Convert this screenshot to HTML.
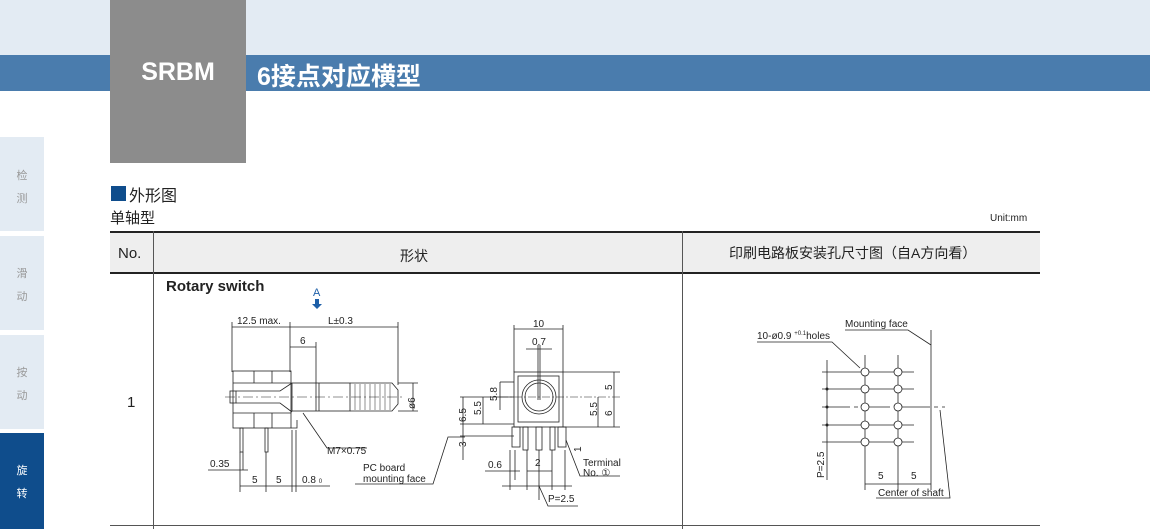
<!DOCTYPE html>
<html><head><meta charset="utf-8"><style>
*{margin:0;padding:0;box-sizing:border-box}
body{width:1150px;height:529px;position:relative;background:#fff;overflow:hidden;font-family:"Liberation Sans","Noto Sans CJK SC",sans-serif}
.a{position:absolute}
</style></head><body>
<div class="a" style="left:0;top:0;width:1150px;height:55px;background:#e3ebf3"></div>
<div class="a" style="left:0;top:55px;width:1150px;height:36px;background:#4a7cad"></div>
<div class="a" style="left:110px;top:0;width:136px;height:163px;background:#8c8c8c"></div>
<div class="a" style="left:110px;top:58px;width:136px;text-align:center;color:#fff;font-weight:bold;font-size:25px">SRBM</div>
<div class="a" style="left:257px;top:57px;color:#fff;font-weight:bold;font-size:25px;font-family:'Liberation Sans','Noto Sans CJK SC',sans-serif">6接点对应横型</div>

<div class="a" style="left:0;top:137px;width:44px;height:94px;background:#e3ebf3;color:#999;font-size:11px;text-align:center;padding-top:28px;line-height:23px">检<br>测</div>
<div class="a" style="left:0;top:236px;width:44px;height:94px;background:#e3ebf3;color:#999;font-size:11px;text-align:center;padding-top:27px;line-height:23px">滑<br>动</div>
<div class="a" style="left:0;top:335px;width:44px;height:94px;background:#e3ebf3;color:#999;font-size:11px;text-align:center;padding-top:27px;line-height:23px">按<br>动</div>
<div class="a" style="left:0;top:433px;width:44px;height:96px;background:#0f4d8c;color:#fff;font-size:11px;text-align:center;padding-top:27px;line-height:23px">旋<br>转</div>

<div class="a" style="left:111px;top:186px;width:15px;height:15px;background:#0f4d8c"></div>
<div class="a" style="left:129px;top:182px;font-size:16px;color:#222">外形图</div>
<div class="a" style="left:110px;top:207px;font-size:15px;color:#222">单轴型</div>
<div class="a" style="left:990px;top:213px;font-size:10px;color:#222">Unit:mm</div>

<div class="a" style="left:110px;top:231px;width:930px;height:43px;background:#eee;border-top:2px solid #222;border-bottom:2px solid #222"></div>
<div class="a" style="left:153px;top:231px;width:1px;height:298px;background:#555"></div>
<div class="a" style="left:682px;top:231px;width:1px;height:298px;background:#555"></div>
<div class="a" style="left:110px;top:525px;width:930px;height:1px;background:#555"></div>
<div class="a" style="left:118px;top:245px;font-size:15px;color:#222">No.</div>
<div class="a" style="left:400px;top:246px;font-size:14px;color:#222">形状</div>
<div class="a" style="left:729px;top:243px;font-size:14px;color:#222">印刷电路板安装孔尺寸图（自A方向看）</div>
<div class="a" style="left:127px;top:394px;font-size:15px;color:#222">1</div>
<div class="a" style="left:166px;top:278px;font-size:15px;font-weight:bold;color:#222">Rotary switch</div>

<svg class="a" style="left:0;top:0" width="1150" height="529" font-family="Liberation Sans" font-size="10" fill="#222">
<g stroke="#222" stroke-width="0.8" fill="none">
<!-- left drawing -->
<line x1="232" y1="327" x2="398" y2="327"/>
<line x1="232" y1="322" x2="232" y2="372"/><line x1="290" y1="322" x2="290" y2="372"/><line x1="398" y1="322" x2="398" y2="385"/>
<line x1="290" y1="347" x2="316" y2="347"/><line x1="316" y1="342" x2="316" y2="383"/>
<rect x="233" y="371" width="58" height="57"/>
<line x1="233" y1="383" x2="291" y2="383"/><line x1="233" y1="413" x2="291" y2="413"/>
<line x1="254" y1="371" x2="254" y2="383"/><line x1="272" y1="371" x2="272" y2="383"/>
<line x1="254" y1="413" x2="254" y2="428"/><line x1="272" y1="413" x2="272" y2="428"/>
<path d="M291 428 L297 428 L297 420"/>
<rect x="230" y="391" width="6" height="12"/>
<path d="M236 391 L280 391 L292 383"/><path d="M236 403 L280 403 L292 412"/>
<rect x="292" y="383" width="58" height="28"/>
<line x1="316" y1="383" x2="316" y2="411"/><line x1="319" y1="383" x2="319" y2="411"/>
<path d="M350 383 L392 383 L398 390 L398 404 L392 411 L350 411"/>
<g stroke-width="0.5"><line x1="355" y1="384" x2="355" y2="410"/><line x1="360" y1="384" x2="360" y2="410"/><line x1="365" y1="384" x2="365" y2="410"/><line x1="370" y1="384" x2="370" y2="410"/><line x1="375" y1="384" x2="375" y2="410"/><line x1="380" y1="384" x2="380" y2="410"/><line x1="385" y1="384" x2="385" y2="410"/><line x1="390" y1="384" x2="390" y2="410"/></g>
<line x1="225" y1="397" x2="405" y2="397" stroke-dasharray="10,3,2,3" stroke-width="0.5"/>
<line x1="398" y1="383" x2="418" y2="383"/><line x1="398" y1="411" x2="418" y2="411"/><line x1="413" y1="383" x2="413" y2="411"/>
<rect x="240" y="428" width="3" height="24"/><rect x="265" y="428" width="3" height="24"/>
<line x1="240" y1="452" x2="240" y2="492"/><line x1="243" y1="452" x2="243" y2="470"/><line x1="266" y1="452" x2="266" y2="492"/>
<line x1="292" y1="430" x2="292" y2="492"/><line x1="296" y1="430" x2="296" y2="492"/>
<line x1="208" y1="470" x2="248" y2="470"/>
<line x1="240" y1="486" x2="296" y2="486"/><line x1="296" y1="486" x2="330" y2="486"/>
<path d="M303 413 L327 448 L367 448"/>
<path d="M355 484 L433 484 L448 437 L465 437"/>
<!-- middle -->
<line x1="514" y1="329" x2="563" y2="329"/><line x1="514" y1="325" x2="514" y2="372"/><line x1="563" y1="325" x2="563" y2="372"/>
<line x1="526" y1="349" x2="552" y2="349"/><line x1="538" y1="345" x2="538" y2="400"/><line x1="540" y1="345" x2="540" y2="400"/>
<rect x="514" y="372" width="49" height="55"/>
<rect x="518" y="376" width="41" height="46"/>
<circle cx="539" cy="397" r="17"/><circle cx="539" cy="397" r="14"/>
<line x1="500" y1="397" x2="620" y2="397" stroke-dasharray="8,2,2,2" stroke-width="0.5"/>
<line x1="563" y1="372" x2="620" y2="372"/><line x1="563" y1="427" x2="620" y2="427"/>
<line x1="614" y1="372" x2="614" y2="427"/>
<line x1="598" y1="397" x2="598" y2="427"/>
<line x1="500" y1="382" x2="514" y2="382"/><line x1="500" y1="382" x2="500" y2="410"/>
<line x1="483" y1="397" x2="483" y2="424"/><line x1="463" y1="397" x2="463" y2="460"/>
<line x1="460" y1="397" x2="514" y2="397"/><line x1="460" y1="424" x2="514" y2="424"/><line x1="460" y1="436" x2="514" y2="436"/>
<rect x="512" y="427" width="8" height="20"/><rect x="523" y="427" width="5" height="23"/><rect x="536" y="427" width="6" height="23"/><rect x="550" y="427" width="5" height="23"/><rect x="558" y="427" width="8" height="20"/>
<line x1="510" y1="450" x2="510" y2="490"/><line x1="515" y1="450" x2="515" y2="480"/><line x1="527" y1="450" x2="527" y2="490"/><line x1="539" y1="450" x2="539" y2="500"/><line x1="552" y1="450" x2="552" y2="490"/><line x1="565" y1="450" x2="565" y2="490"/>
<line x1="485" y1="471" x2="520" y2="471"/><line x1="527" y1="471" x2="552" y2="471"/>
<line x1="502" y1="486" x2="572" y2="486"/>
<path d="M539 486 L548 506 L578 506"/>
<path d="M566 440 L580 476 L620 476"/>
<!-- right -->
<line x1="822" y1="372" x2="914" y2="372"/><line x1="822" y1="389" x2="914" y2="389"/><line x1="822" y1="407" x2="945" y2="407" stroke-dasharray="28,4,4,4"/><line x1="822" y1="425" x2="914" y2="425"/><line x1="822" y1="442" x2="914" y2="442"/>
<line x1="865" y1="355" x2="865" y2="490"/><line x1="898" y1="355" x2="898" y2="490"/>
<line x1="931" y1="330" x2="931" y2="490"/>
<line x1="827" y1="360" x2="827" y2="480"/>
<line x1="865" y1="484" x2="931" y2="484"/>
<path d="M845 330 L908 330 L931 345"/>
<path d="M757 342 L832 342 L860 368"/>
<path d="M940 410 L950 498 L876 498"/>
</g>
<g fill="#fff" stroke="#222" stroke-width="0.8">
<circle cx="865" cy="372" r="4"/><circle cx="898" cy="372" r="4"/>
<circle cx="865" cy="389" r="4"/><circle cx="898" cy="389" r="4"/>
<circle cx="865" cy="407" r="4"/><circle cx="898" cy="407" r="4"/>
<circle cx="865" cy="425" r="4"/><circle cx="898" cy="425" r="4"/>
<circle cx="865" cy="442" r="4"/><circle cx="898" cy="442" r="4"/>
</g>
<circle cx="827" cy="389" r="1.5"/><circle cx="827" cy="407" r="1.5"/><circle cx="827" cy="425" r="1.5"/>
<text x="313" y="296" fill="#1e5fa8" font-size="11">A</text>
<path d="M315 299 h4 v5 h3 l-5 5 l-5 -5 h3z" fill="#1e5fa8"/>
<text x="237" y="324">12.5 max.</text>
<text x="328" y="324">L±0.3</text>
<text x="300" y="344">6</text>
<text x="415" y="401" transform="rotate(-90 415 401)" dx="-8" dy="0">ø6</text>
<text x="327" y="454">M7×0.75</text>
<text x="210" y="467">0.35</text>
<text x="252" y="483">5</text>
<text x="276" y="483">5</text>
<text x="302" y="483">0.8 <tspan font-size="6">0</tspan></text>
<text x="363" y="471">PC board</text>
<text x="363" y="482">mounting face</text>
<text x="533" y="327">10</text>
<text x="532" y="345">0.7</text>
<text x="612" y="390" transform="rotate(-90 612 390)">5</text>
<text x="612" y="416" transform="rotate(-90 612 416)">6</text>
<text x="597" y="416" transform="rotate(-90 597 416)">5.5</text>
<text x="497" y="401" transform="rotate(-90 497 401)">5.8</text>
<text x="481" y="415" transform="rotate(-90 481 415)">5.5</text>
<text x="466" y="422" transform="rotate(-90 466 422)">6.5</text>
<text x="466" y="447" transform="rotate(-90 466 447)">3</text>
<text x="581" y="452" transform="rotate(-90 581 452)">1</text>
<text x="488" y="468">0.6</text>
<text x="535" y="466">2</text>
<text x="548" y="502">P=2.5</text>
<text x="583" y="466">Terminal</text>
<text x="583" y="476">No. ①</text>
<text x="845" y="327">Mounting face</text>
<text x="757" y="339">10-ø0.9 <tspan font-size="6" dy="-4">+0.1</tspan><tspan dy="4">holes</tspan></text>
<text x="824" y="478" transform="rotate(-90 824 478)">P=2.5</text>
<text x="878" y="479">5</text>
<text x="911" y="479">5</text>
<text x="878" y="496">Center of shaft</text>
</svg>
</body></html>
